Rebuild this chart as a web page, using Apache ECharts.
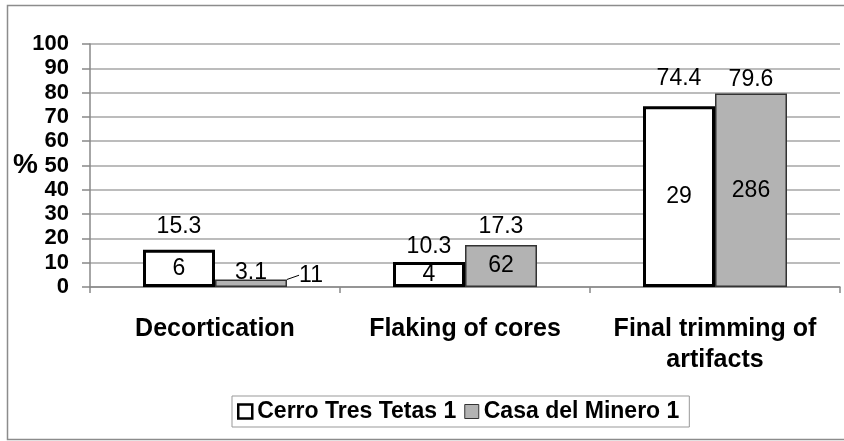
<!DOCTYPE html>
<html>
<head>
<meta charset="utf-8">
<script src="https://cdn.jsdelivr.net/npm/echarts@6/dist/echarts.min.js"></script>
<style>
  html, body { margin: 0; padding: 0; background: #fff; }
  #chart { width: 844px; height: 441px; }
</style>
</head>
<body>
<div id="chart"></div>
<script>
const categories = ['Decortication', 'Flaking of cores', 'Final trimming of\nartifacts'];
const cerroPct = [15.3, 10.3, 74.4];
const casaPct = [3.1, 17.3, 79.6];
const cerroCount = [6, 4, 29];
const casaCount = [11, 62, 286];
const yTicks = [0, 10, 20, 30, 40, 50, 60, 70, 80, 90, 100];

// label gaps above the bars differ per bar in the original
const cerroGap = [12, 4, 16];
const casaGap = [-5, 7, 2];

const FONT = '"Liberation Sans", Arial, sans-serif';

const chart = echarts.init(document.getElementById('chart'));

const pctLabel = {
    show: true,
    position: 'top',
    fontFamily: FONT,
    fontSize: 23,
    color: '#000'
};
const countLabel = {
    show: true,
    position: 'inside',
    fontFamily: FONT,
    fontSize: 23,
    color: '#000'
};

const option = {
    animation: false,
    backgroundColor: '#fff',
    textStyle: { fontFamily: FONT },
    graphic: [{
        type: 'rect',
        shape: { x: 7.5, y: 5.5, width: 845, height: 434 },
        style: { fill: 'none', stroke: '#8c8c8c', lineWidth: 1.5 },
        silent: true
    }, {
        // y axis title, sits right next to the 50 tick label
        type: 'text',
        left: 13,
        top: 151,
        style: { text: '%', font: 'bold 28px ' + FONT, fill: '#000' },
        silent: true
    }],
    grid: { left: 90, right: 4, top: 44, bottom: 154 },
    legend: {
        left: 232,
        top: 396,
        padding: [4, 10, 4, 5],
        borderColor: '#999',
        borderWidth: 1,
        icon: 'rect',
        itemWidth: 14,
        itemHeight: 14,
        itemGap: 8,
        textStyle: { fontFamily: FONT, fontSize: 23, fontWeight: 'bold', color: '#000' },
        data: [
            { name: 'Cerro Tres Tetas 1', itemStyle: { color: '#fff', borderColor: '#000', borderWidth: 2.5 } },
            { name: 'Casa del Minero 1', itemStyle: { color: '#b3b3b3', borderColor: '#333', borderWidth: 1 } }
        ]
    },
    xAxis: [{
        type: 'category',
        data: categories,
        axisLine: { lineStyle: { color: '#888', width: 1.5 } },
        axisTick: { show: true, length: 6, lineStyle: { color: '#888', width: 1.5 } },
        axisLabel: {
            interval: 0,
            margin: 27,
            fontFamily: FONT,
            fontSize: 25,
            fontWeight: 'bold',
            color: '#000',
            lineHeight: 31
        }
    }, {
        type: 'category',
        data: categories,
        show: false
    }],
    yAxis: {
        type: 'value',
        min: 0,
        max: 100,
        interval: 10,
        axisLine: { show: true, lineStyle: { color: '#888', width: 1.5 } },
        axisTick: { show: true, length: 8, lineStyle: { color: '#888', width: 1.5 } },
        axisLabel: {
            margin: 21,
            fontFamily: FONT,
            fontSize: 22,
            fontWeight: 'bold',
            color: '#000',
            formatter: v => (yTicks.indexOf(v) >= 0 ? String(v) : '')
        },
        splitLine: { show: true, lineStyle: { color: '#a6a6a6', width: 1.5 } }
    },
    series: [{
        name: 'Cerro Tres Tetas 1',
        type: 'bar',
        barWidth: 72,
        barGap: 0,
        itemStyle: { color: '#fff', borderColor: '#000', borderWidth: 3 },
        label: pctLabel,
        data: cerroPct.map((v, i) => ({ value: v, label: { distance: cerroGap[i] } }))
    }, {
        name: 'Casa del Minero 1',
        type: 'bar',
        barWidth: 72,
        barGap: 0,
        itemStyle: { color: '#b3b3b3', borderColor: '#333', borderWidth: 1.5 },
        label: pctLabel,
        data: casaPct.map((v, i) => ({ value: v, label: { distance: casaGap[i] } }))
    }, {
        name: 'cerroCount',
        type: 'bar',
        xAxisIndex: 1,
        barWidth: 72,
        barGap: 0,
        silent: true,
        itemStyle: { color: 'rgba(0,0,0,0)' },
        label: Object.assign({}, countLabel, { formatter: p => cerroCount[p.dataIndex] }),
        data: cerroPct
    }, {
        name: 'casaCount',
        type: 'bar',
        xAxisIndex: 1,
        barWidth: 72,
        barGap: 0,
        silent: true,
        itemStyle: { color: 'rgba(0,0,0,0)' },
        label: Object.assign({}, countLabel, { formatter: p => casaCount[p.dataIndex] }),
        labelLine: { show: true, lineStyle: { color: '#000', width: 1 } },
        labelLayout: p => (p.dataIndex === 0 ? { dx: 60, dy: -8 } : {}),
        data: casaPct
    }]
};

chart.setOption(option);
</script>
</body>
</html>
